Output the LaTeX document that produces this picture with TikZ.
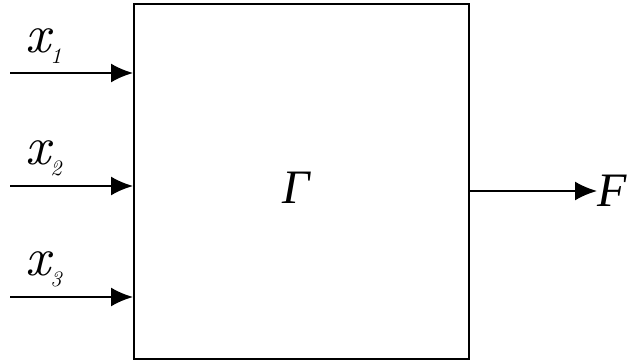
\documentclass[tikz,border=0pt]{standalone}
\usepackage{fontspec}
\setmainfont{Liberation Serif}
\newfontfamily\lmfont{lmroman10}[Extension=.otf, UprightFont=*-regular, ItalicFont=*-italic]
\usetikzlibrary{arrows.meta, positioning}

\begin{document}
\begin{tikzpicture}[
			x=1pt, y=-1pt,
			sysblock/.style={rectangle, draw=black, line width=2pt, minimum width=335pt, minimum height=355pt, inner sep=0pt},
			arrow/.style={-{Latex[length=22pt,width=19pt]}, line width=2pt},
			varlabel/.style={inner sep=0pt, font=\fontsize{48}{52}\selectfont\itshape},
			inlabel/.style={inner sep=0pt, font=\fontsize{54}{58}\selectfont\lmfont\itshape}
		]

		\useasboundingbox (0,0) rectangle (627,363);

		\node[sysblock] (sys) at (301.5,181.5) {};
		\node[varlabel] (gamma) at (296,188) {Γ};

		\coordinate (in1) at (10,73);
		\coordinate (in2) at (10,186);
		\coordinate (in3) at (10,297);

		\node[inlabel, anchor=base west] (lab1) at (25,53) {x\kern0pt\raisebox{-11pt}{\fontsize{22}{24}\selectfont 1}};
		\node[inlabel, anchor=base west] (lab2) at (25,165) {x\kern0pt\raisebox{-11pt}{\fontsize{22}{24}\selectfont 2}};
		\node[inlabel, anchor=base west] (lab3) at (25,276) {x\kern0pt\raisebox{-11pt}{\fontsize{22}{24}\selectfont 3}};

		\node[varlabel, anchor=west] (out) at (597,191) {F};

		\draw[arrow] (in1) -- (in1 -| sys.west);
		\draw[arrow] (in2) -- (in2 -| sys.west);
		\draw[arrow] (in3) -- (in3 -| sys.west);
		\draw[arrow] (sys.east |- out.west) -- (out.west);

	\end{tikzpicture}
\end{document}
